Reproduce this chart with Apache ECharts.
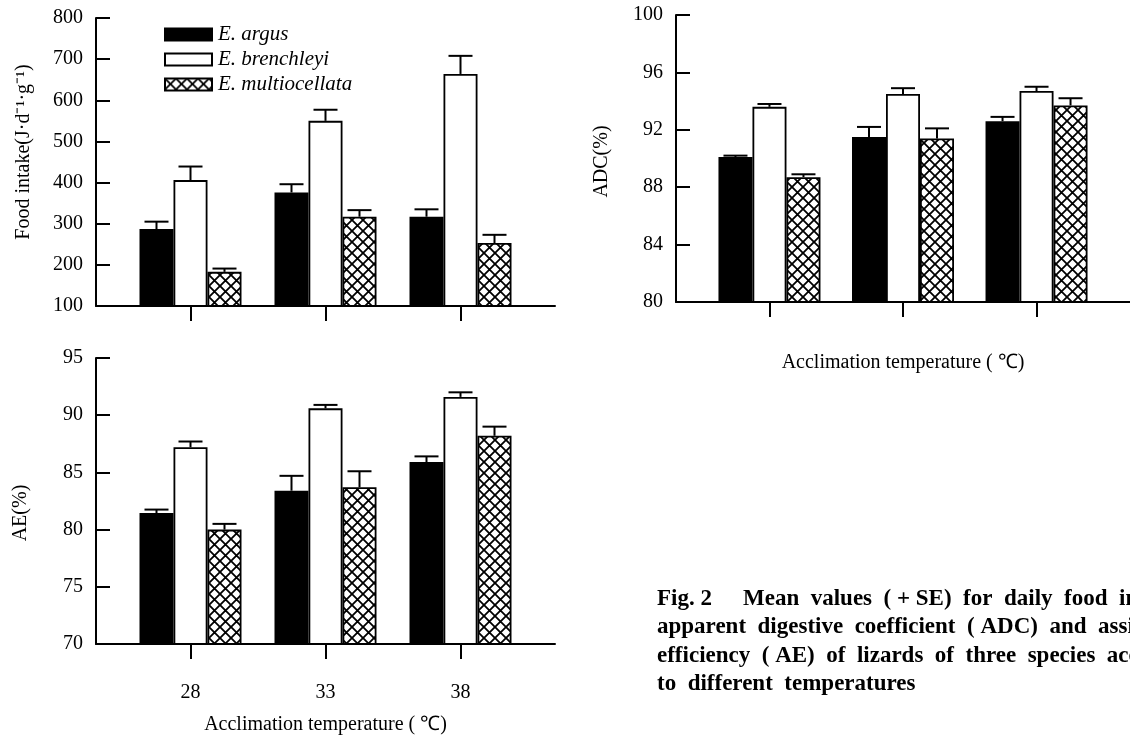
<!DOCTYPE html>
<html>
<head>
<meta charset="utf-8">
<script src="https://cdn.jsdelivr.net/npm/echarts/dist/echarts.min.js"></script>
<style>
html,body{margin:0;padding:0;background:#fff;}
#chart{width:1130px;height:744px;}
</style>
</head>
<body>
<div id="chart"></div>
<script>
// ---- data ----
const temps = [28, 33, 38];
const speciesNames = ['E. argus', 'E. brenchleyi', 'E. multiocellata'];

const foodArgus = [287, 376, 317];
const foodArgusSE = [18, 20, 18];
const foodBren = [406, 550, 664];
const foodBrenSE = [33, 27, 44];
const foodMulti = [183, 317, 253];
const foodMultiSE = [8, 16, 20];

const adcArgus = [90.1, 91.5, 92.6];
const adcArgusSE = [0.1, 0.7, 0.3];
const adcBren = [93.6, 94.5, 94.7];
const adcBrenSE = [0.2, 0.4, 0.3];
const adcMulti = [88.7, 91.4, 93.7];
const adcMultiSE = [0.2, 0.7, 0.5];

const aeArgus = [81.45, 83.4, 85.9];
const aeArgusSE = [0.3, 1.3, 0.5];
const aeBren = [87.2, 90.6, 91.6];
const aeBrenSE = [0.5, 0.3, 0.4];
const aeMulti = [80.0, 83.7, 88.2];
const aeMultiSE = [0.5, 1.4, 0.8];

const foodTicks = [100, 200, 300, 400, 500, 600, 700, 800];
const adcTicks = [80, 84, 88, 92, 96, 100];
const aeTicks = [70, 75, 80, 85, 90, 95];

// ---- styling ----
const FONT = 'Liberation Serif';
const BAR_W = 34;

function hatchPattern() {
  const c = document.createElement('canvas');
  const s = 11;
  c.width = s; c.height = s;
  const g = c.getContext('2d');
  g.fillStyle = '#fff';
  g.fillRect(0, 0, s, s);
  g.strokeStyle = '#000';
  g.lineWidth = 1.8;
  g.beginPath();
  g.moveTo(-1, -1); g.lineTo(s + 1, s + 1);
  g.moveTo(s + 1, -1); g.lineTo(-1, s + 1);
  g.stroke();
  return c;
}
const hatch = { image: hatchPattern(), repeat: 'repeat' };
const fills = ['#000', '#fff', hatch];

const charts = [
  { means: [foodArgus, foodBren, foodMulti], ses: [foodArgusSE, foodBrenSE, foodMultiSE] },
  { means: [adcArgus, adcBren, adcMulti], ses: [adcArgusSE, adcBrenSE, adcMultiSE] },
  { means: [aeArgus, aeBren, aeMulti], ses: [aeArgusSE, aeBrenSE, aeMultiSE] }
];

const series = [];
charts.forEach((ch, ci) => {
  ch.means.forEach((vals, si) => {
    series.push({
      type: 'bar',
      name: speciesNames[si],
      xAxisIndex: ci, yAxisIndex: ci,
      barWidth: BAR_W, barGap: '0%',
      data: temps.map((t, i) => [t, vals[i]]),
      itemStyle: { color: fills[si], borderColor: '#000', borderWidth: 1.8 },
      z: 2
    });
  });
  ch.means.forEach((vals, si) => {
    const off = (si - 1) * BAR_W;
    series.push({
      type: 'custom',
      xAxisIndex: ci, yAxisIndex: ci,
      data: temps.map((t, i) => [t, vals[i], ch.ses[si][i]]),
      z: 3,
      renderItem: function (params, api) {
        const x = api.value(0), m = api.value(1), s = api.value(2);
        const p0 = api.coord([x, m]);
        const p1 = api.coord([x, m + s]);
        const cx = p0[0] + off;
        const st = { stroke: '#000', lineWidth: 2 };
        return {
          type: 'group',
          children: [
            { type: 'line', shape: { x1: cx, y1: p0[1], x2: cx, y2: p1[1] }, style: st },
            { type: 'line', shape: { x1: cx - 12, y1: p1[1], x2: cx + 12, y2: p1[1] }, style: st }
          ]
        };
      }
    });
  });
});

function xAxisCfg(gi, showLabel, name, nameGap) {
  return {
    type: 'value', gridIndex: gi, min: 24.5, max: 41.5,
    splitLine: { show: false },
    axisLine: { show: true, onZero: false, lineStyle: { color: '#000', width: 2 } },
    axisTick: { show: true, customValues: temps, length: 15, lineStyle: { color: '#000', width: 2 } },
    axisLabel: { show: showLabel, customValues: temps, margin: 39, color: '#000', fontFamily: FONT, fontSize: 20 },
    name: name, nameLocation: 'middle', nameGap: nameGap,
    nameTextStyle: { color: '#000', fontFamily: FONT, fontSize: 20 }
  };
}
function yAxisCfg(gi, ticks, name, nameGap, pad) {
  return {
    type: 'value', gridIndex: gi,
    min: ticks[0], max: ticks[ticks.length - 1], interval: ticks[1] - ticks[0],
    splitLine: { show: false },
    axisLine: { show: true, onZero: false, lineStyle: { color: '#000', width: 2 } },
    axisTick: { show: true, inside: true, length: 14, lineStyle: { color: '#000', width: 2 } },
    axisLabel: { margin: 13, color: '#000', fontFamily: FONT, fontSize: 20 },
    name: name, nameLocation: 'middle', nameGap: nameGap,
    nameTextStyle: { color: '#000', fontFamily: FONT, fontSize: 20, padding: pad }
  };
}

const capStyle = { fill: '#000', font: 'bold 23px "Liberation Serif"', textVerticalAlign: 'middle' };

const option = {
  backgroundColor: '#fff',
  animation: false,
  grid: [
    { left: 96, top: 18, width: 459, height: 288 },
    { left: 676, top: 15, width: 456, height: 287 },
    { left: 96, top: 358, width: 459, height: 286 }
  ],
  xAxis: [
    xAxisCfg(0, false, '', 0),
    xAxisCfg(1, false, 'Acclimation temperature ( ℃)', 51),
    xAxisCfg(2, true, 'Acclimation temperature ( ℃)', 71)
  ],
  yAxis: [
    yAxisCfg(0, foodTicks, 'Food intake(J·d⁻¹·g⁻¹)', 62, [0, 0, 0, 20]),
    yAxisCfg(1, adcTicks, 'ADC(%)', 64, [0, 6, 0, 0]),
    yAxisCfg(2, aeTicks, 'AE(%)', 65, [0, 24, 0, 0])
  ],
  legend: {
    data: speciesNames,
    orient: 'vertical',
    left: 159, top: 19,
    itemWidth: 47, itemHeight: 12, itemGap: 4,
    icon: 'rect',
    selectedMode: false,
    textStyle: { color: '#000', fontFamily: FONT, fontStyle: 'italic', fontSize: 21, padding: [0, 0, 0, 1] }
  },
  graphic: [
    { type: 'text', left: 657, top: 588, style: Object.assign({ text: 'Fig. 2' }, capStyle) },
    { type: 'text', left: 743, top: 588, style: Object.assign({ text: 'Mean  values  ( + SE)  for  daily  food  intake,' }, capStyle) },
    { type: 'text', left: 657, top: 616, style: Object.assign({ text: 'apparent  digestive  coefficient  ( ADC)  and  assimilation' }, capStyle) },
    { type: 'text', left: 657, top: 645, style: Object.assign({ text: 'efficiency  ( AE)  of  lizards  of  three  species  acclimated' }, capStyle) },
    { type: 'text', left: 657, top: 673, style: Object.assign({ text: 'to  different  temperatures' }, capStyle) }
  ],
  series: series
};

const chart = echarts.init(document.getElementById('chart'), null, { renderer: 'canvas' });
chart.setOption(option);
</script>
</body>
</html>
